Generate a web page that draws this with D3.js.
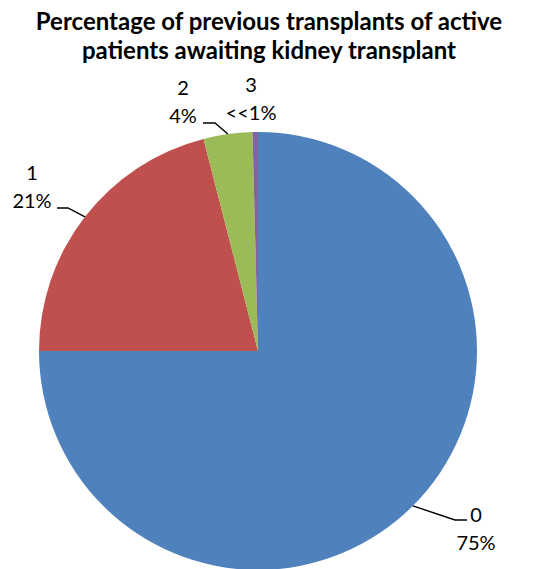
<!DOCTYPE html>
<html>
<head>
<meta charset="utf-8">
<script src="https://cdn.jsdelivr.net/npm/d3@7"></script>
<style>
  body { margin: 0; background: #fff; }
  text { font-family: Lato, "Open Sans", sans-serif; }
</style>
</head>
<body>
<div id="chart"></div>
<script>
const width = 538;
const height = 569;

// data
const categories = ["0", "1", "2", "3"];
const percents = [75.0, 21.0, 3.6, 0.4];
const percentLabels = ["75%", "21%", "4%", "<<1%"];
const colors = ["#4F81BD", "#C0504D", "#9BBB59", "#8064A2"];
const titleLines = ["Percentage of previous transplants of active", "patients awaiting kidney transplant"];

const cx = 258, cy = 351, radius = 219;

const svg = d3.select("#chart")
    .append("svg")
    .attr("width", width)
    .attr("height", height);

// title
svg.append("text")
    .attr("x", 269)
    .attr("y", 30)
    .attr("text-anchor", "middle")
    .attr("font-size", "24px")
    .attr("font-weight", "bold")
    .selectAll("tspan")
    .data(titleLines)
    .join("tspan")
    .attr("x", 269)
    .attr("dy", (d, i) => i === 0 ? 0 : 29)
    .text(d => d);

const pie = d3.pie().sort(null).value(d => d.value);
const arcs = pie(categories.map((c, i) => ({ name: c, value: percents[i] })));

const arc = d3.arc().innerRadius(0).outerRadius(radius);

const g = svg.append("g").attr("transform", `translate(${cx},${cy})`);

g.selectAll("path")
    .data(arcs)
    .join("path")
    .attr("d", arc)
    .attr("fill", (d, i) => colors[i]);

// label layout: first-line baseline relative to pie centre, and leader elbows (null = no leader)
const labelAt = [[218, 171], [-226, -171], [-75, -256], [-7, -259]];
const elbows = [[197, 169], [-190, -143], [-43, -228], null];
const stubs = [12, -11, -12, 0];

const pt = (a, r) => [r * Math.sin(a), -r * Math.cos(a)];

arcs.forEach((d, i) => {
    const mid = (d.startAngle + d.endAngle) / 2;
    if (elbows[i]) {
        const s = pt(mid, radius);
        const e = elbows[i];
        g.append("polyline")
            .attr("points", [s, e, [e[0] + stubs[i], e[1]]].map(p => p.join(",")).join(" "))
            .attr("fill", "none")
            .attr("stroke", "#000")
            .attr("stroke-width", 1.4);
    }
    const t = g.append("text")
        .attr("text-anchor", "middle")
        .attr("font-size", "20px")
        .attr("fill", "#000");
    t.append("tspan")
        .attr("x", labelAt[i][0])
        .attr("y", labelAt[i][1])
        .text(d.data.name);
    t.append("tspan")
        .attr("x", labelAt[i][0])
        .attr("y", labelAt[i][1] + 28)
        .text(percentLabels[i]);
});
</script>
</body>
</html>
